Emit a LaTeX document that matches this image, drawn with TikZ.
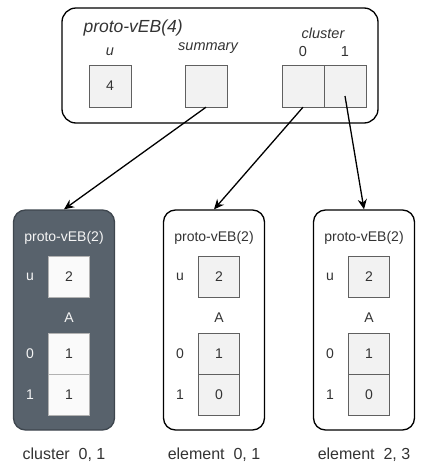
\documentclass[tikz,border=0pt]{standalone}
\usepackage{fontspec}
\setmainfont{Liberation Sans}
\usepackage{xcolor}
\usepackage{tikz}
\usetikzlibrary{shapes,arrows.meta,positioning,calc}
\definecolor{slate}{HTML}{58626C}
\definecolor{slateline}{HTML}{3E464E}
\definecolor{cellgray}{HTML}{F2F2F2}
\definecolor{txt}{HTML}{333333}
\tikzset{
    topbox/.style={draw, rectangle, line width=1.3pt, rounded corners=14pt, minimum width=316pt, minimum height=115pt},
    vebbox/.style={draw, rectangle, line width=1.3pt, rounded corners=12pt, fill=white, minimum width=101pt, minimum height=220pt},
    darkbox/.style={vebbox, fill=slate, draw=slateline},
    cell/.style={draw=gray!75!black, fill=cellgray, rectangle, minimum size=42pt, text=txt, font=\fontsize{14}{16}\selectfont},
    lightcell/.style={cell, draw=gray!60, fill=white!96!gray},
    lbl/.style={text=txt, font=\fontsize{14}{16}\selectfont},
    lightlbl/.style={lbl, text=white!92!gray},
    arrow/.style={->, >={Stealth[length=10pt,width=9pt]}, line width=1.3pt}
}
\begin{document}
\begin{tikzpicture}[x=1pt, y=-1pt]
    \useasboundingbox (0,0) rectangle (421,469);
    % proto-vEB(4)
    \node[topbox] (top) at (220,65.5) {};
    \node[anchor=west, text=txt, font=\fontsize{17.5}{19}\selectfont\itshape] (title) at (80,28) {proto-vEB(4)};
    \node[cell] (u) at (110,86) {4};
    \node[cell] (sum) at (206,86) {};
    \node[cell] (c0) at (303,86) {};
    \node[cell] (c1) at (345,86) {};
    \node[lbl, font=\fontsize{14.5}{16}\selectfont\itshape] (ulbl) at (110,52) {u};
    \node[lbl, font=\fontsize{14.5}{16}\selectfont\itshape] (sumlbl) at (208,48) {summary};
    \node[lbl, font=\fontsize{14.5}{16}\selectfont\itshape] (clbl) at (323,33) {cluster};
    \node[lbl, font=\fontsize{14.5}{16}\selectfont] (c0lbl) at (303,52) {0};
    \node[lbl, font=\fontsize{14.5}{16}\selectfont] (c1lbl) at (345,52) {1};

    % proto-vEB(2) boxes
    \foreach \x/\n/\va/\vb/\sty/\cel/\lab/\cap in {64/1/1/1/darkbox/lightcell/lightlbl/{cluster~~0, 1},
            214/2/1/0/vebbox/cell/lbl/{element~~0, 1}, 364/3/1/0/vebbox/cell/lbl/{element~~2, 3}} {
        \node[\sty] (b\n) at (\x,320) {};
        \node[\lab, font=\fontsize{14}{16}\selectfont] (t\n) at (\x,238) {proto-vEB(2)};
        \node[\cel, minimum size=41pt] (u\n) at (\x+5,277) {2};
        \node[\lab] (ul\n) at (\x-34,277) {u};
        \node[\lab] (al\n) at (\x+5,318) {A};
        \node[\cel, minimum size=41pt] (a\n) at (\x+5,353.5) {\va};
        \node[\cel, minimum size=41pt] (z\n) at (\x+5,394.5) {\vb};
        \node[\lab] (zl\n) at (\x-34,354) {0};
        \node[\lab] (ol\n) at (\x-34,395) {1};
        \node[lbl, font=\fontsize{16}{18}\selectfont] (cap\n) at (\x,455) {\cap};
    }

    \draw[arrow] (sum.south) -- (b1.north);
    \draw[arrow] (c0.south) -- (b2.north);
    \draw[arrow] ([yshift=-10pt]c1.center) -- (b3.north);
\end{tikzpicture}
\end{document}
